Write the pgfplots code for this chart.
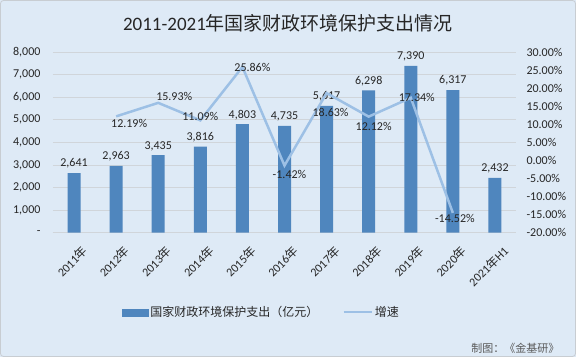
\documentclass[border=0pt]{standalone}
\usepackage{pgfplots}
\pgfplotsset{compat=1.18}
\usepackage{pgfplotstable}
\usepackage{fontspec}
\setmainfont{Carlito}
\newfontfamily\cjk{Noto Sans CJK SC}
\definecolor{bg}{HTML}{DEEAF6}
\definecolor{barcol}{HTML}{4F86BE}
\definecolor{linecol}{HTML}{9DC0E5}
\definecolor{gridcol}{HTML}{D0D5DA}
\definecolor{bordercol}{HTML}{C8CDD2}
\definecolor{txt}{HTML}{262626}

\pgfplotstableread{
x  y
0  2641
1  2963
2  3435
3  3816
4  4803
5  4735
6  5617
7  6298
8  7390
9  6317
10 2432
}\spend

\pgfplotstableread{
x  y       dx   dy
1  12.19   13   -7
2  15.93   16    6
3  11.09    0    4
4  25.86   10    0
5  -1.42    5   -9
6  18.63    4  -19
7  12.12    5  -10
8  17.34    6    0
9  -14.52   2   -6
}\growth

\begin{document}
\begin{tikzpicture}
\fill[bg] (0pt,0pt) rectangle (576pt,357pt);
\draw[bordercol, line width=0.8pt, rounded corners=3pt] (0.5pt,0.5pt) rectangle (575.5pt,356.5pt);
\node[font=\fontsize{19}{22}\selectfont, text=txt] at (288pt,334pt) {2011-2021{\cjk 年国家财政环境保护支出情况}};

\begin{axis}[
  at={(53pt,124.3pt)}, anchor=south west,
  scale only axis, width=463pt, height=180.7pt,
  xmin=-0.5, xmax=10.5, ymin=0, ymax=8000,
  /pgf/number format/assume math mode=true,
  axis x line*=bottom, axis y line*=left,
  y axis line style={draw=none},
  x axis line style={draw=gridcol, line width=0.8pt, -},
  major tick length=0pt,
  ytick={0,1000,...,8000},
  yticklabels={-,{1,000},{2,000},{3,000},{4,000},{5,000},{6,000},{7,000},{8,000}},
  yticklabel style={font=\fontsize{12}{14}\selectfont, text=txt, xshift=-9pt},
  ymajorgrids, grid style={draw=gridcol, line width=0.8pt},
  xtick={0,...,10},
  xticklabels={2011{\cjk 年},2012{\cjk 年},2013{\cjk 年},2014{\cjk 年},2015{\cjk 年},2016{\cjk 年},2017{\cjk 年},2018{\cjk 年},2019{\cjk 年},2020{\cjk 年},2021{\cjk 年}H1},
  xticklabel style={font=\fontsize{12}{14}\selectfont, text=txt, rotate=45, anchor=north east, xshift=0pt, yshift=-10pt},
  axis background/.style={fill=none},
]
\addplot[ybar, bar width=13pt, fill=barcol, draw=none,
  nodes near coords={\pgfmathprintnumber[fixed,precision=0,1000 sep={,}]{\pgfplotspointmeta}},
  nodes near coords style={font=\fontsize{12}{14}\selectfont, text=txt, yshift=1pt},
  point meta=y] table[x=x,y=y] {\spend};
\end{axis}

\begin{axis}[
  at={(53pt,124.3pt)}, anchor=south west,
  scale only axis, width=463pt, height=180.7pt,
  xmin=-0.5, xmax=10.5, ymin=-20, ymax=30,
  /pgf/number format/assume math mode=true,
  axis x line=none, axis y line*=right,
  y axis line style={draw=none},
  major tick length=0pt,
  ytick={-20,-15,...,30},
  yticklabel={\pgfmathprintnumber[fixed,fixed zerofill,precision=2]{\tick}\%},
  yticklabel style={font=\fontsize{12}{14}\selectfont, text=txt, xshift=7pt},
  legend style={at={(0.45,-0.44)}, anchor=center, draw=none, fill=none,
    legend columns=2, font=\fontsize{12}{14}\selectfont, text=txt,
    /tikz/every even column/.append style={column sep=22pt}},
]
\addlegendimage{legend image code/.code={\fill[barcol] (0pt,-3.5pt) rectangle (26pt,3.5pt);}}
\addlegendentry{\cjk 国家财政环境保护支出（亿元）}
\addplot[linecol, line width=2.5pt, mark=none,
  legend image code/.code={\draw[linecol, line width=2.5pt] (0pt,0pt) -- (28pt,0pt);},
  visualization depends on={\thisrow{dx}\as\dx},
  visualization depends on={\thisrow{dy}\as\dy},
  nodes near coords={\pgfmathprintnumber[fixed,fixed zerofill,precision=2]{\pgfplotspointmeta}\%},
  nodes near coords style={font=\fontsize{12}{14}\selectfont, text=txt, anchor=center, xshift=\dx pt, yshift=\dy pt},
  point meta=y] table[x=x,y=y] {\growth};
\addlegendentry{\cjk 增速}
\end{axis}

\node[anchor=east, font=\fontsize{11}{13}\selectfont, text=black!65] at (563pt,9pt) {\cjk 制图：《金基研》};
\end{tikzpicture}
\end{document}
